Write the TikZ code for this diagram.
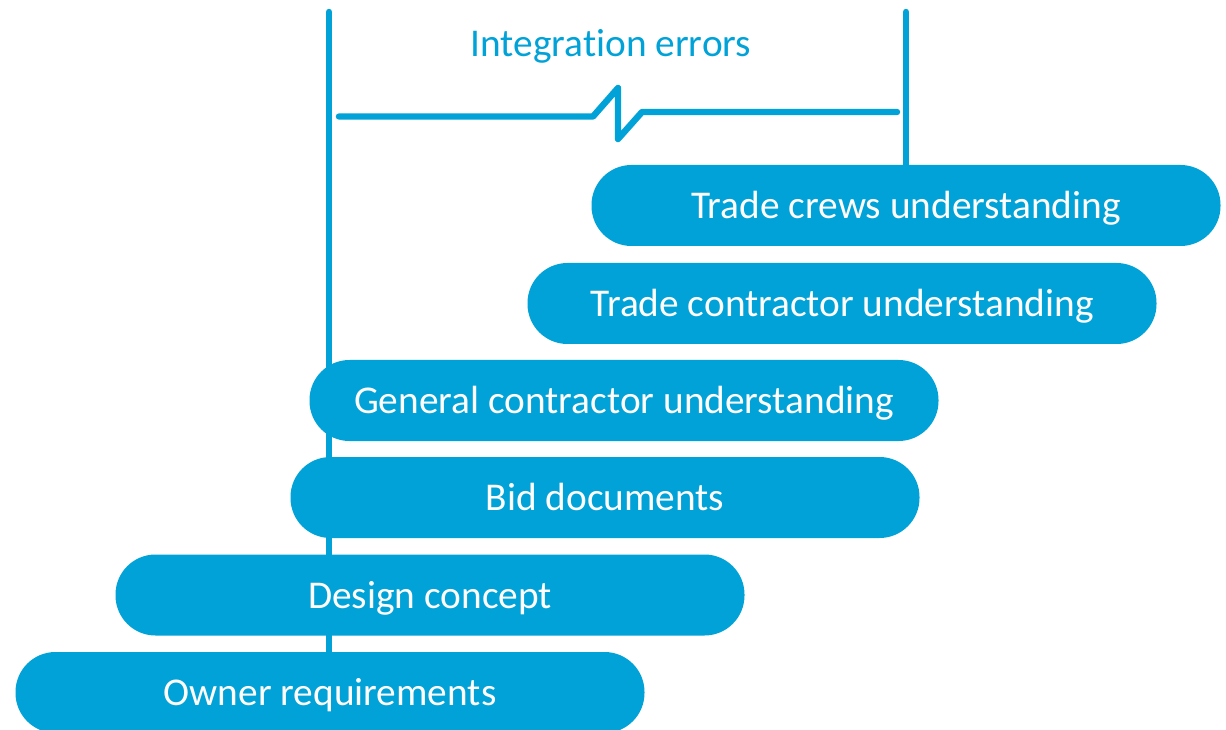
\documentclass[tikz,border=0pt]{standalone}
\usepackage{fontspec}
\setmainfont{Carlito}[Ligatures=NoCommon]
\usetikzlibrary{backgrounds}

\definecolor{stepblue}{HTML}{00A2D7}

\tikzset{
  stage/.style={rectangle, fill=stepblue, text=white, rounded corners=30pt,
    minimum width=471.75pt, minimum height=60.75pt, inner sep=0pt,
    text height=21.5pt, text depth=2pt,
    font=\fontsize{29.5}{35}\selectfont},
  bar/.style={draw=stepblue, line width=4.8pt, line cap=round, line join=round}
}

\begin{document}
\begin{tikzpicture}[x=0.75pt,y=-0.75pt]
  \useasboundingbox (0,0) rectangle (1226,730);

  % stages, top to bottom
  \node[stage] (crews)   at (906,205.5) {Trade crews understanding};
  \node[stage] (trade)   at (842,303.5) {Trade contractor understanding};
  \node[stage] (general) at (624,400.5) {General contractor understanding};
  \node[stage] (bid)     at (605,497.5) {Bid documents};
  \node[stage] (design)  at (430,595) {Design concept};
  \node[stage] (owner)   at (330,692.5) {Owner requirements};

  \coordinate (leftTop)  at (329,12);
  \coordinate (rightTop) at (906,12);

  % span of the errors, with a break in it
  \coordinate (spanL) at (339,116.5);
  \coordinate (spanR) at (897,112);
  \draw[bar] (spanL) -- (593,116.5) -- (618,88) -- (618,139) -- (642,112) -- (spanR);

  \node[text=stepblue, anchor=base, inner sep=0pt, font=\fontsize{29.5}{35}\selectfont]
    (errors) at (611,57) {Integration errors};

  \begin{scope}[on background layer]
    \draw[bar] (leftTop) -- (leftTop |- owner.north);
    \draw[bar] (rightTop) -- (crews.north);
  \end{scope}
\end{tikzpicture}
\end{document}
